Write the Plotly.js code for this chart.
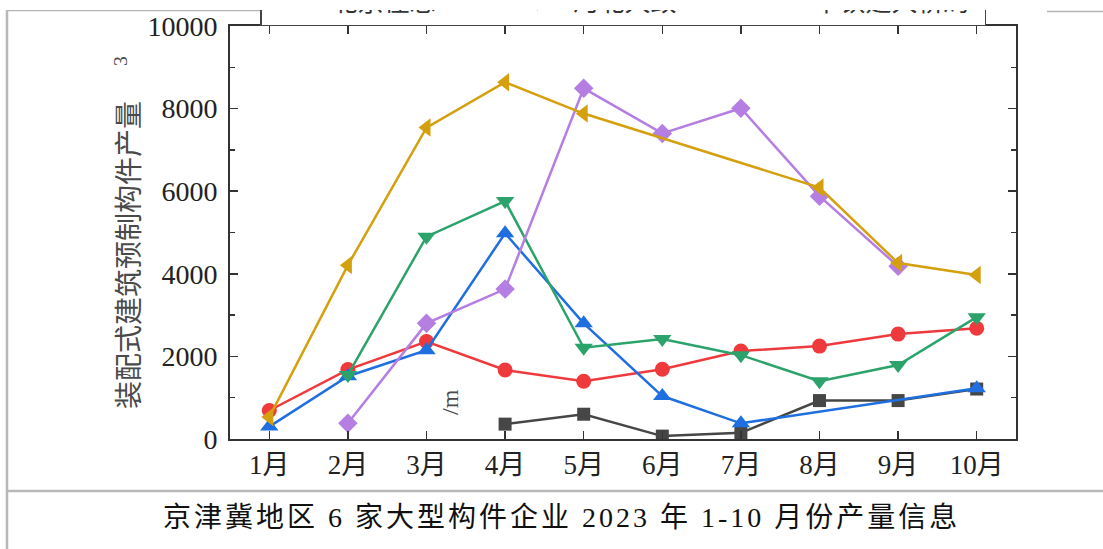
<!DOCTYPE html>
<html>
<head>
<meta charset="utf-8">
<script src="https://cdn.plot.ly/plotly-3.0.1.min.js"></script>
<style>
  html, body { margin: 0; padding: 0; background: #fff; }
  #wrap { position: relative; width: 1103px; height: 549px; overflow: hidden; }
  #chart { position: absolute; left: 0; top: -40px; width: 1103px; height: 589px; }
  #cover { position: absolute; left: 0; top: 0; width: 1103px; height: 10px; background: #fff; z-index: 5; }
  .annotation[data-index="1"] text { letter-spacing: 3px; }
</style>
</head>
<body>
<div id="wrap">
  <div id="chart"></div>
  <div id="cover"></div>
</div>
<script>
// ---- data ----
const months = ['1月','2月','3月','4月','5月','6月','7月','8月','9月','10月'];
const seriesBlack  = [null, null, null, 360, 600, 70, 150, 930, 930, 1210];
const seriesRed    = [690, 1680, 2360, 1670, 1400, 1690, 2130, 2250, 2540, 2680];
const seriesBlue   = [300, 1520, 2150, 4980, 2800, 1040, 380, null, null, 1230];
const seriesGreen  = [null, 1550, 4900, 5760, 2210, 2420, 2030, 1400, 1790, 2950];
const seriesPurple = [null, 380, 2800, 3630, 8490, 7400, 8010, 5880, 4180, null];
const seriesGold   = [530, 4210, 7540, 8640, 7880, null, null, 6090, 4260, 3970];
const legendNames  = ['北京住总', '河北大致', '中铁建大桥局'];
const yTitle = '装配式建筑预制构件产量';
const caption = '京津冀地区 6 家大型构件企业 2023 年 1-10 月份产量信息';

const serifCJK = 'Liberation Serif, "Noto Sans CJK SC", serif';

function mk(y, color, symbol, size, name, showlegend) {
  return {
    type: 'scatter', mode: 'lines+markers', x: months, y: y,
    name: name, showlegend: showlegend, connectgaps: true,
    line: { color: color, width: 2.5 },
    marker: { color: color, symbol: symbol, size: size, line: { width: 0 } }
  };
}

const traces = [
  mk(seriesBlack,  '#464646', 'square',        13, '', false),
  mk(seriesRed,    '#ef3a3d', 'circle',        15, '', false),
  mk(seriesBlue,   '#1f6fe0', 'triangle-up',   16, '', false),
  mk(seriesGreen,  '#2ba36b', 'triangle-down', 16, legendNames[0], true),
  mk(seriesPurple, '#b47ee2', 'diamond',       15, legendNames[1], true),
  mk(seriesGold,   '#d4a00e', 'triangle-left', 16, legendNames[2], true)
];

// the chart div starts 40 px above the page; plot area on the page: 230..1016 x 26..439
const SHIFT = 40;
const L = 230, R = 1016, T = 26, B = 439;
const px = v => (v - L) / (R - L);
const py = v => (B - v) / (B - T);

const layout = {
  width: 1103, height: 549 + SHIFT,
  margin: { l: L, r: 1103 - R, t: T + SHIFT, b: 549 - B, pad: 0 },
  paper_bgcolor: '#fff', plot_bgcolor: '#fff',
  font: { family: serifCJK, color: '#222' },
  showlegend: true,
  legend: {
    orientation: 'h', x: px(260), xanchor: 'left', y: py(26), yanchor: 'bottom',
    bgcolor: '#fff', bordercolor: '#444', borderwidth: 1.5,
    font: { size: 26, family: serifCJK, color: '#333' },
    itemwidth: 60, entrywidth: 166, entrywidthmode: 'pixels'
  },
  xaxis: {
    type: 'category', range: [-0.5, 9.5],
    showline: true, linewidth: 2, linecolor: '#333', mirror: 'ticks',
    ticks: 'inside', ticklen: 8, tickwidth: 1.5, tickcolor: '#333',
    showgrid: false, zeroline: false, ticklabelstandoff: 1,
    tickfont: { size: 27, family: serifCJK, color: '#222' }
  },
  yaxis: {
    range: [0, 10000], dtick: 2000, tickformat: 'd',
    showline: true, linewidth: 2, linecolor: '#333', mirror: 'ticks',
    ticks: 'inside', ticklen: 8, tickwidth: 1.5, tickcolor: '#333',
    minor: { dtick: 1000, ticks: 'inside', ticklen: 5, tickwidth: 1.5, tickcolor: '#333' },
    showgrid: false, zeroline: false, ticklabelstandoff: 5,
    tickfont: { size: 28, family: serifCJK, color: '#222' },
    title: {
      text: yTitle + '\u00a0\u00a0\u00a0\u00a0\u00a0<sup>3</sup>',
      standoff: 0,
      font: { size: 28, family: serifCJK, color: '#4a4a4a' }
    }
  },
  annotations: [
    { xref: 'paper', yref: 'paper', x: px(450), y: py(402), text: '/m', showarrow: false,
      xanchor: 'center', yanchor: 'middle',
      textangle: -90, font: { size: 24, family: serifCJK, color: '#4a4a4a' } },
    { xref: 'paper', yref: 'paper', x: px(561), y: py(517), text: caption, showarrow: false,
      xanchor: 'center', yanchor: 'middle',
      font: { size: 28, family: serifCJK, color: '#111' } }
  ],
  shapes: [
    { type: 'line', xref: 'paper', yref: 'paper', x0: px(7), x1: px(985), y0: py(10.5), y1: py(10.5),
      line: { color: '#b4b4b4', width: 1.5 } },
    { type: 'line', xref: 'paper', yref: 'paper', x0: px(1047), x1: px(1103), y0: py(11.5), y1: py(11.5),
      line: { color: '#b4b4b4', width: 1.5 } },
    { type: 'line', xref: 'paper', yref: 'paper', x0: px(7), x1: px(7), y0: py(10), y1: py(549),
      line: { color: '#b8b8b8', width: 2.5 } },
    { type: 'line', xref: 'paper', yref: 'paper', x0: px(7), x1: px(1103), y0: py(491), y1: py(491),
      line: { color: '#b8b8b8', width: 2.5 } }
  ]
};

Plotly.newPlot('chart', traces, layout, { staticPlot: true, displayModeBar: false });
</script>
</body>
</html>
